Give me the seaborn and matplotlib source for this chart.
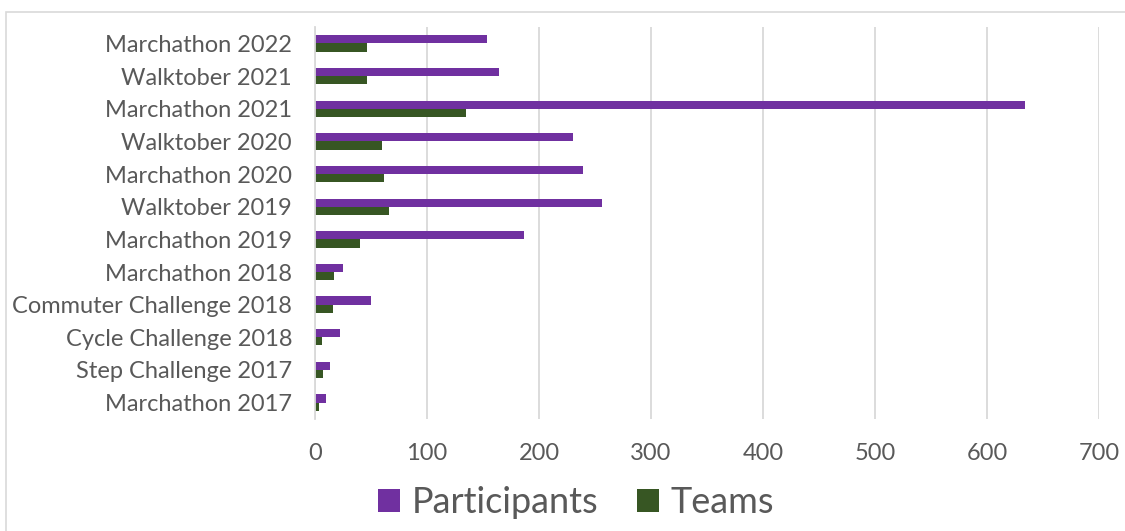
import matplotlib
matplotlib.use("Agg")
import matplotlib.pyplot as plt
import matplotlib.patches as mpatches
import pandas as pd
import seaborn as sns

events = [
    "Marchathon 2022", "Walktober 2021", "Marchathon 2021", "Walktober 2020",
    "Marchathon 2020", "Walktober 2019", "Marchathon 2019", "Marchathon 2018",
    "Commuter Challenge 2018", "Cycle Challenge 2018", "Step Challenge 2017",
    "Marchathon 2017",
]
participants = [154, 164, 634, 230, 239, 256, 187, 25, 50, 22, 13, 10]
teams = [46, 46, 135, 60, 62, 66, 40, 17, 16, 6, 7, 4]
x_ticks = [0, 100, 200, 300, 400, 500, 600, 700]

series_names = ["Participants", "Teams"]
palette = {"Participants": "#7030A0", "Teams": "#375623"}

df = pd.DataFrame({
    "event": events * 2,
    "value": participants + teams,
    "series": ["Participants"] * len(events) + ["Teams"] * len(events),
})

sns.set_theme(style="white")
plt.rcParams["font.family"] = ["Lato", "DejaVu Sans"]
text_color = "#595959"
grid_color = "#D9D9D9"

fig = plt.figure(figsize=(11.25, 5.31), dpi=100)
ax = fig.add_axes([0.28, 0.211, 0.6969, 0.738])

sns.barplot(data=df, y="event", x="value", hue="series", order=events,
            hue_order=series_names, palette=palette, width=0.5,
            orient="h", ax=ax, legend=False, saturation=1,
            edgecolor="none")

ax.set_xlim(0, 700)
ax.set_xticks(x_ticks)
ax.set_xticklabels([str(t) for t in x_ticks])
ax.set_ylim(len(events) - 0.5, -0.5)
ax.set_xlabel("")
ax.set_ylabel("")
ax.set_axisbelow(True)
ax.xaxis.grid(True, color=grid_color, linewidth=1.3)
ax.yaxis.grid(False)
for side in ["top", "right", "bottom"]:
    ax.spines[side].set_visible(False)
ax.spines["left"].set_color(grid_color)
ax.spines["left"].set_linewidth(1.3)
ax.tick_params(axis="x", length=0, pad=17, labelsize=17, labelcolor=text_color)
ax.tick_params(axis="y", length=0, pad=16.5, labelsize=17, labelcolor=text_color)

handles = [mpatches.Patch(facecolor=palette[s], edgecolor="none", label=s)
           for s in series_names]
fig.legend(handles=handles, loc="center", bbox_to_anchor=(0.512, 0.053),
           ncol=2, frameon=False, fontsize=26, labelcolor=text_color,
           handlelength=0.61, handleheight=0.61, handletextpad=0.33,
           columnspacing=1.05, borderpad=0.2)

# chart-area border
border = mpatches.Rectangle((6 / 1125, -0.1), 1.2, 1 - 12 / 531 + 0.1,
                            transform=fig.transFigure, fill=False,
                            edgecolor="#D9D9D9", linewidth=1.2)
fig.patches.append(border)

fig.savefig("out.png", dpi=100, facecolor="white")
